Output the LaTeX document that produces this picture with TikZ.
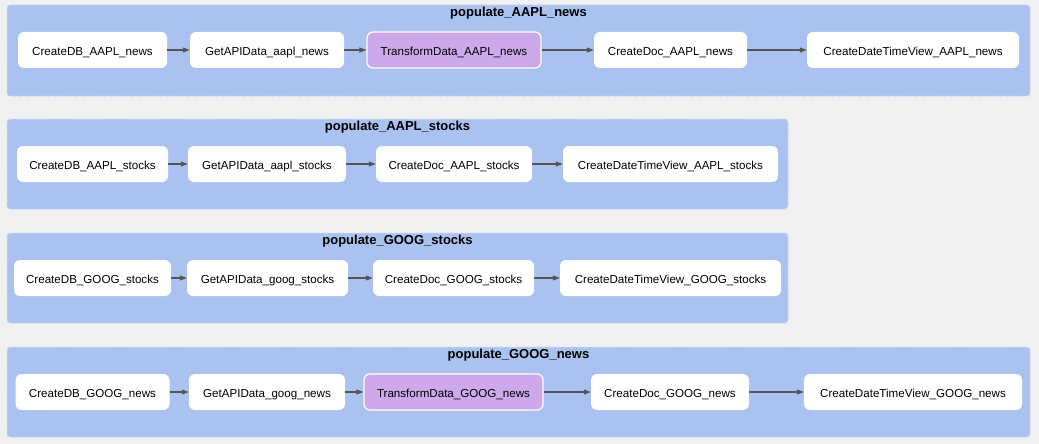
\documentclass[tikz,border=0pt]{standalone}
\usepackage{fontspec}
\setmainfont{Liberation Sans}
\usepackage{tikz}
\usetikzlibrary{arrows.meta}
\definecolor{bgGray}{HTML}{F0F0F0}
\definecolor{clusterBlue}{HTML}{A9C2EF}
\definecolor{clusterEdge}{HTML}{CCDAF5}
\definecolor{transformPurple}{HTML}{CDA9EC}
\definecolor{arrowGray}{HTML}{555555}

\begin{document}
\begin{tikzpicture}[x=1pt,y=-1pt,
  cluster/.style={fill=clusterBlue, draw=clusterEdge, dash pattern=on 4pt off 3pt, rounded corners=3pt, line width=1pt},
  title/.style={font=\bfseries\fontsize{13}{15}\selectfont, inner sep=0pt},
  task/.style={fill=white, rounded corners=6pt, minimum height=36pt, inner sep=0pt, text height=11pt, text depth=0pt, font=\fontsize{11.6}{13}\selectfont},
  transform/.style={task, fill=transformPurple, draw=white, line width=1.2pt},
  flow/.style={draw=arrowGray, line width=1.1pt, -{Triangle[length=7pt,width=5pt]}}]
\fill[bgGray] (0,0) rectangle (1039,444);
\useasboundingbox (0,0) rectangle (1039,444);
% populate_AAPL_news
\draw[cluster] (7,5) rectangle (1030,96);
\node[title] (tAN) at (518.5,13.3) {populate\_AAPL\_news};
\node[task, minimum width=149pt] (dbAN) at (92.5,50) {CreateDB\_AAPL\_news};
\node[task, minimum width=154pt] (apiAN) at (267,50) {GetAPIData\_aapl\_news};
\node[transform, minimum width=174pt] (trAN) at (454,50) {TransformData\_AAPL\_news};
\node[task, minimum width=153pt] (docAN) at (670.5,50) {CreateDoc\_AAPL\_news};
\node[task, minimum width=212pt] (viewAN) at (913,50) {CreateDateTimeView\_AAPL\_news};
\draw[flow] (dbAN) -- (apiAN);
\draw[flow] (apiAN) -- (trAN);
\draw[flow] (trAN) -- (docAN);
\draw[flow] (docAN) -- (viewAN);
% populate_AAPL_stocks
\draw[cluster] (7,119) rectangle (788,209);
\node[title] (tAS) at (397.5,127.3) {populate\_AAPL\_stocks};
\node[task, minimum width=151pt] (dbAS) at (92.5,164) {CreateDB\_AAPL\_stocks};
\node[task, minimum width=158pt] (apiAS) at (267,164) {GetAPIData\_aapl\_stocks};
\node[task, minimum width=156pt] (docAS) at (454,164) {CreateDoc\_AAPL\_stocks};
\node[task, minimum width=215pt] (viewAS) at (670.5,164) {CreateDateTimeView\_AAPL\_stocks};
\draw[flow] (dbAS) -- (apiAS);
\draw[flow] (apiAS) -- (docAS);
\draw[flow] (docAS) -- (viewAS);
% populate_GOOG_stocks
\draw[cluster] (7,233) rectangle (788,323);
\node[title] (tGS) at (397.5,241.3) {populate\_GOOG\_stocks};
\node[task, minimum width=157pt] (dbGS) at (92.5,278) {CreateDB\_GOOG\_stocks};
\node[task, minimum width=161pt] (apiGS) at (267.5,278) {GetAPIData\_goog\_stocks};
\node[task, minimum width=161pt] (docGS) at (453.5,278) {CreateDoc\_GOOG\_stocks};
\node[task, minimum width=221pt] (viewGS) at (670.5,278) {CreateDateTimeView\_GOOG\_stocks};
\draw[flow] (dbGS) -- (apiGS);
\draw[flow] (apiGS) -- (docGS);
\draw[flow] (docGS) -- (viewGS);
% populate_GOOG_news
\draw[cluster] (7,347) rectangle (1030,437);
\node[title] (tGN) at (518.5,355.3) {populate\_GOOG\_news};
\node[task, minimum width=154pt] (dbGN) at (92.5,392) {CreateDB\_GOOG\_news};
\node[task, minimum width=156pt] (apiGN) at (267,392) {GetAPIData\_goog\_news};
\node[transform, minimum width=179pt] (trGN) at (453.5,392) {TransformData\_GOOG\_news};
\node[task, minimum width=158pt] (docGN) at (670,392) {CreateDoc\_GOOG\_news};
\node[task, minimum width=218pt] (viewGN) at (913,392) {CreateDateTimeView\_GOOG\_news};
\draw[flow] (dbGN) -- (apiGN);
\draw[flow] (apiGN) -- (trGN);
\draw[flow] (trGN) -- (docGN);
\draw[flow] (docGN) -- (viewGN);
\end{tikzpicture}
\end{document}
